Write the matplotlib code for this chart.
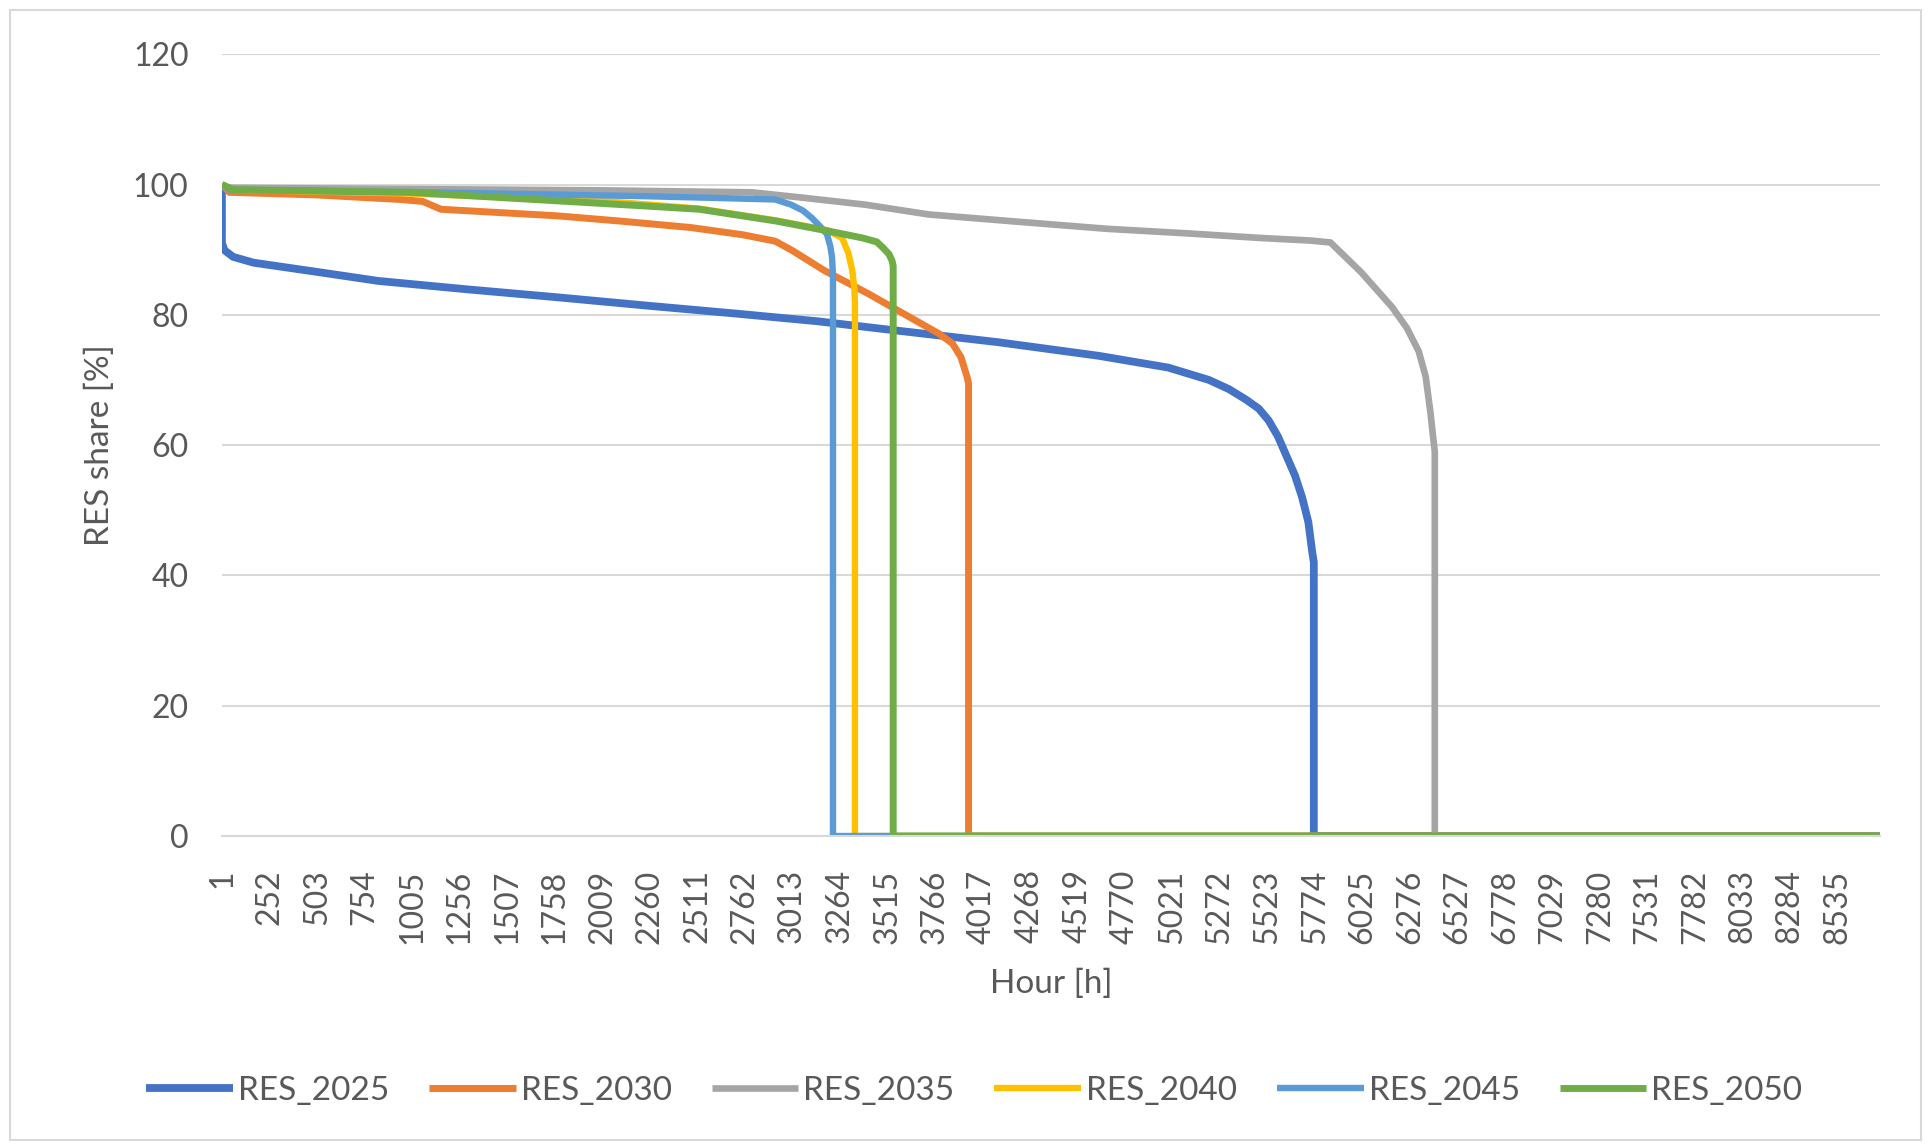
import matplotlib
matplotlib.use("Agg")
import matplotlib.pyplot as plt
from matplotlib.patches import Rectangle

plt.rcParams['font.family'] = ['Lato', 'DejaVu Sans']

# duration curves of the RES share, hours sorted by share
h_2025 = [1, 1, 15, 60, 168, 500, 827, 1300, 1769, 2250, 2712, 3150, 3560, 4100, 4634, 5000,
          5215, 5320, 5410, 5478, 5530, 5580, 5619, 5670, 5707, 5740, 5760, 5769, 5769, 8760]
v_2025 = [100, 91, 89.9, 88.9, 88.0, 86.6, 85.2, 83.9, 82.7, 81.4, 80.2, 79.0, 77.6, 75.8, 73.7, 71.9,
          70.0, 68.6, 67.0, 65.6, 63.8, 61.3, 58.7, 55.3, 52.0, 48.2, 43.7, 42.0, 0, 0]

h_2030 = [1, 40, 500, 945, 1062, 1158, 1400, 1769, 2100, 2476, 2750, 2924, 3018, 3183,
          3418, 3600, 3789, 3860, 3905, 3937, 3945, 3945, 8760]
v_2030 = [100, 98.8, 98.4, 97.7, 97.4, 96.2, 95.8, 95.2, 94.4, 93.4, 92.3, 91.3, 89.8, 86.8,
          83.2, 80.2, 77.1, 75.6, 73.5, 70.5, 69.5, 0, 0]

h_2035 = [1, 40, 1000, 2000, 2800, 3062, 3400, 3735, 4200, 4676, 5100, 5484, 5750, 5857,
          6020, 6182, 6260, 6323, 6360, 6385, 6400, 6408, 6408, 8760]
v_2035 = [100, 99.5, 99.3, 99.1, 98.8, 98.0, 96.9, 95.4, 94.3, 93.2, 92.5, 91.8, 91.4, 91.1,
          86.5, 81.2, 78.0, 74.4, 70.5, 65.0, 61.0, 59.0, 0, 0]

h_2040 = [1, 40, 1000, 2000, 2523, 2927, 3197, 3277, 3310, 3331, 3342, 3345, 3345, 8760]
v_2040 = [100, 99.2, 98.6, 97.5, 96.3, 94.5, 93.0, 91.8, 89.5, 86.8, 84.0, 82.0, 0, 0]

h_2045 = [1, 40, 1299, 2241, 2523, 2924, 3008, 3070, 3116, 3160, 3197, 3215, 3224, 3229, 3229, 8760]
v_2045 = [100, 99.2, 98.7, 98.2, 98.0, 97.7, 96.9, 96.0, 94.9, 93.6, 92.4, 90.5, 88.8, 86.0, 0, 0]

h_2050 = [1, 60, 1000, 1769, 2241, 2523, 2927, 3197, 3384, 3460, 3493, 3525, 3541, 3547, 3547, 8760]
v_2050 = [100, 99.2, 98.8, 97.5, 96.7, 96.2, 94.4, 92.9, 91.8, 91.2, 90.3, 89.3, 88.3, 87.5, 0, 0]

names = ['RES_2025', 'RES_2030', 'RES_2035', 'RES_2040', 'RES_2045', 'RES_2050']
hours = [h_2025, h_2030, h_2035, h_2040, h_2045, h_2050]
shares = [v_2025, v_2030, v_2035, v_2040, v_2045, v_2050]
colors = ['#4472C4', '#ED7D31', '#A5A5A5', '#FFC000', '#5B9BD5', '#70AD47']
widths = [5.6, 5.0, 4.8, 4.6, 4.6, 5.0]

x_ticks = list(range(1, 8760, 251))
y_ticks = [0, 20, 40, 60, 80, 100, 120]

txt = '#595959'
fig = plt.figure(figsize=(19.33, 11.46), dpi=100)
fig.patches.append(Rectangle((0.0052, 0.0052), 0.9886, 0.986, transform=fig.transFigure,
                             fill=False, edgecolor='#D9D9D9', linewidth=1.5))
ax = fig.add_axes([0.1148, 0.2705, 0.8578, 0.6822])

for h, v, c, lw, n in zip(hours, shares, colors, widths, names):
    ax.plot(h, v, color=c, linewidth=lw, label=n, solid_joinstyle='round',
            solid_capstyle='butt')

ax.set_xlim(1, 8760)
ax.set_ylim(0, 120)
ax.set_yticks(y_ticks)
ax.set_xticks(x_ticks)
ax.set_xticklabels([str(t) for t in x_ticks], rotation=90)
ax.tick_params(axis='both', length=0, labelsize=23, labelcolor=txt)
ax.tick_params(axis='y', pad=24)
ax.tick_params(axis='x', pad=24)
ax.grid(axis='y', color='#D9D9D9', linewidth=1.5)
ax.set_axisbelow(True)
for s in ['top', 'right', 'left']:
    ax.spines[s].set_visible(False)
ax.spines['bottom'].set_color('#D9D9D9')
ax.spines['bottom'].set_linewidth(1.5)

ax.set_ylabel('RES share [%]', fontsize=24, color=txt, labelpad=13)
ax.set_xlabel('Hour [h]', fontsize=24, color=txt, labelpad=18)

fig.legend(loc='center', bbox_to_anchor=(0.504, 0.048), ncol=6, frameon=False,
           fontsize=24, labelcolor=txt, handlelength=2.6, handletextpad=0.15,
           columnspacing=1.2)

fig.savefig('out.png', dpi=100)
